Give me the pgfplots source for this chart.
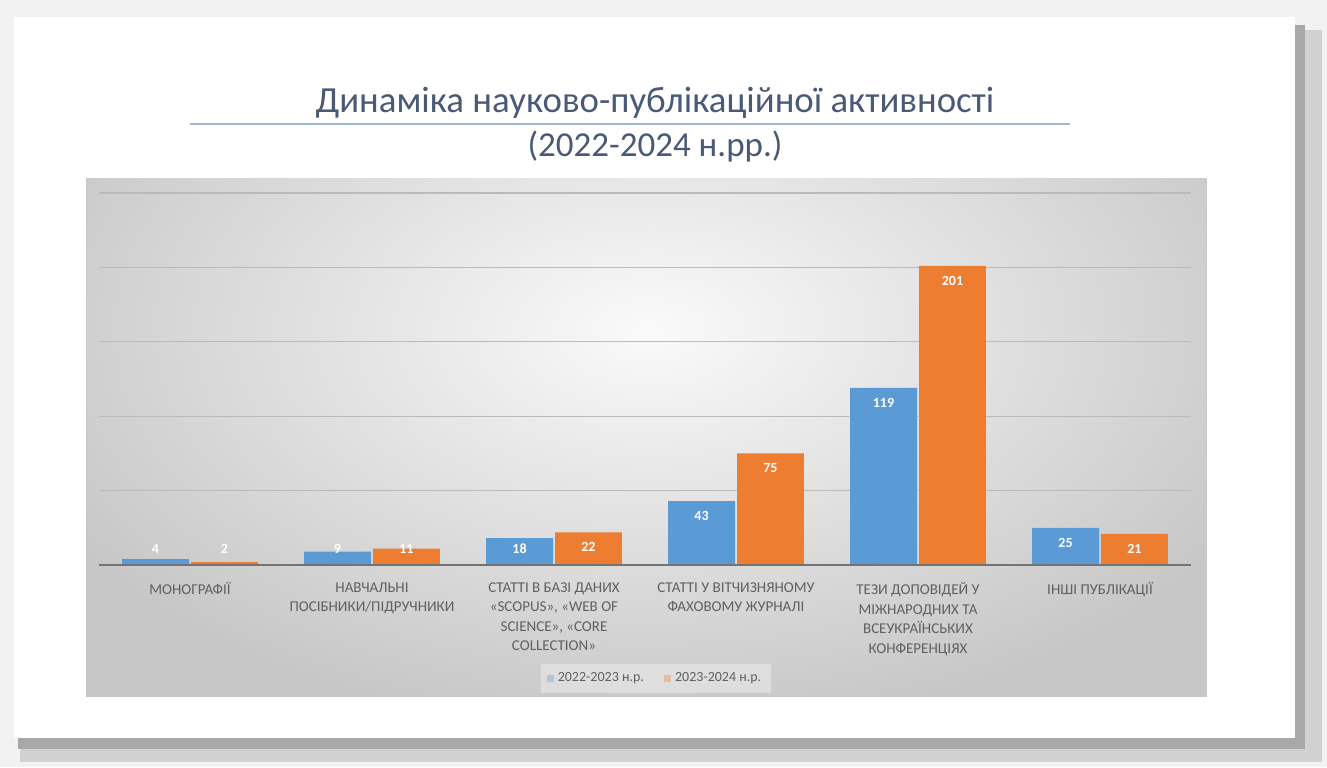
\documentclass[border=0pt]{standalone}
\usepackage{fontspec}
\setmainfont{Carlito}
\usepackage{pgfplots}
\usepackage{pgfplotstable}
\pgfplotsset{compat=1.18}

\definecolor{serA}{HTML}{5B9BD5}
\definecolor{serB}{HTML}{ED7D31}
\definecolor{titlec}{HTML}{4A5A74}
\definecolor{labc}{HTML}{606060}
\definecolor{rulec}{HTML}{9FB6D0}

\pgfplotstableread{
idx a b
0 4 2
1 9 11
2 18 22
3 43 75
4 119 201
5 25 21
}\pubdata

\begin{document}
\begin{tikzpicture}
% slide frame and chart area, in pixels of the reference (y flipped)
\begin{scope}[x=0.5pt,y=0.5pt]
  \fill[black!5] (0,0) rectangle (1327,767);
  \fill[black!18] (20,5) rectangle (1322,737);
  \fill[black!34] (18,18) rectangle (1305,742);
  \fill[white] (14,29) rectangle (1295,750);
  \fill[black!22] (86,70) rectangle (1207,589);
  \begin{scope}
    \clip (87,72) rectangle (1206,588);
    \shade[inner color=black!2, outer color=black!22] (650,437) ellipse (680 and 400);
  \end{scope}
  \node[font=\fontsize{18.4}{21}\selectfont, text=titlec] at (655,664) {Динаміка науково-публікаційної активності};
  \draw[rulec, line width=0.6pt] (190,643) -- (1070,643);
  \node[font=\fontsize{17.5}{20}\selectfont, text=titlec] at (655,620) {(2022-2024 н.рр.)};
\end{scope}

\begin{axis}[
  at={(49.5pt,101pt)}, anchor=south west,
  scale only axis, width=546pt, height=186pt,
  ybar=1pt, bar width=0.368,
  xmin=-0.5, xmax=5.5, ymin=0, ymax=250,
  axis line style={draw=none},
  xtick={0,...,5}, xtick style={draw=none},
  ytick={50,100,150,200,250}, yticklabels={}, ytick style={draw=none},
  ymajorgrids, grid style={draw=black!27, line width=0.6pt},
  xticklabels={МОНОГРАФІЇ,
    НАВЧАЛЬНІ\\ПОСІБНИКИ/ПІДРУЧНИКИ,
    {СТАТТІ В БАЗІ ДАНИХ\\«SCOPUS», «WEB OF\\SCIENCE», «CORE\\COLLECTION»},
    СТАТТІ У ВІТЧИЗНЯНОМУ\\ФАХОВОМУ ЖУРНАЛІ,
    ТЕЗИ ДОПОВІДЕЙ У\\МІЖНАРОДНИХ ТА\\ВСЕУКРАЇНСЬКИХ\\КОНФЕРЕНЦІЯХ,
    ІНШІ ПУБЛІКАЦІЇ},
  xticklabel style={font=\fontsize{7.5}{9.75}\selectfont, text=labc, align=center, anchor=north, yshift=-1pt},
  /pgf/number format/assume math mode=true,
  nodes near coords,
  every node near coord/.append style={font=\fontsize{7}{8}\selectfont\bfseries, text=white, anchor=center, yshift=\labshift pt},
  legend style={at={(0.51,-0.305)}, anchor=center, draw=none, fill=white, fill opacity=0.35, text opacity=1,
    legend columns=-1, font=\fontsize{7}{8}\selectfont, text=labc,
    /tikz/every even column/.append style={column sep=8pt}},
  legend image code/.code={\fill[#1] (0pt,-1.8pt) rectangle (3.6pt,1.8pt);},
]
\addplot[fill=serA, draw=none, visualization depends on={max(-7.5,8-0.744*\thisrow{a}) \as \labshift}]
  table[x=idx, y=a] {\pubdata};
\addplot[fill=serB, draw=none, visualization depends on={max(-7.5,8-0.744*\thisrow{b}) \as \labshift}]
  table[x=idx, y=b] {\pubdata};
\draw[black!55, line width=1pt] (axis cs:-0.5,0) -- (axis cs:5.5,0);
\legend{2022-2023 н.р., 2023-2024 н.р.}
\end{axis}
\end{tikzpicture}
\end{document}
